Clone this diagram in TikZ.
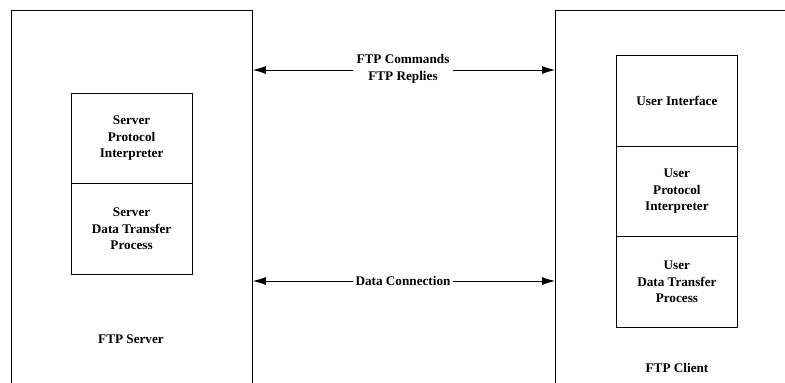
\documentclass[tikz,border=0pt]{standalone}
\usepackage{fontspec}
\setmainfont{Liberation Serif}
\usetikzlibrary{arrows.meta}
\begin{document}
\begin{tikzpicture}[x=1pt,y=-1pt,
  every node/.style={font=\fontsize{13.2}{16.5}\selectfont\bfseries, align=center},
  outer/.style={draw, line width=0.9pt, anchor=north west, inner sep=0pt},
  part/.style={draw, line width=0.8pt, minimum width=121pt, minimum height=90.7pt, inner sep=0pt, anchor=north west},
  arr/.style={line width=0.8pt, -{Latex[length=13pt,width=8pt]}}]
\useasboundingbox (0,0) rectangle (785,383);
\clip (0,0) rectangle (785,383);
% outer boxes
\node[outer, minimum width=241pt, minimum height=390pt] (server) at (11,10) {};
\node[outer, minimum width=240pt, minimum height=390pt] (client) at (555,10) {};
\node (serverlbl) at (131,339) {FTP Server};
\node (clientlbl) at (677,368) {FTP Client};
% server parts
\node[part] (spi) at (70.7,92.7) {Server\\Protocol\\Interpreter};
\node[part] (sdtp) at (70.7,183.3) {Server\\Data Transfer\\Process};
% client parts
\node[part] (ui) at (616,55) {User Interface};
\node[part] (upi) at (616,145.7) {User\\Protocol\\Interpreter};
\node[part] (udtp) at (616,236.3) {User\\Data Transfer\\Process};
% connections
\node[inner sep=3pt] (cmd) at (403,69) {FTP Commands\\FTP Replies};
\coordinate (cmdl) at (cmd.west |- 0,70);
\coordinate (cmdr) at (cmd.east |- 0,70);
\draw[arr] (cmdl) -- (server.east |- cmdl);
\draw[arr] (cmdr) -- (client.west |- cmdr);
\node[inner sep=2pt] (data) at (403,281) {Data Connection};
\draw[arr] (data.west) -- (server.east |- data.west);
\draw[arr] (data.east) -- (client.west |- data.east);
\end{tikzpicture}
\end{document}
